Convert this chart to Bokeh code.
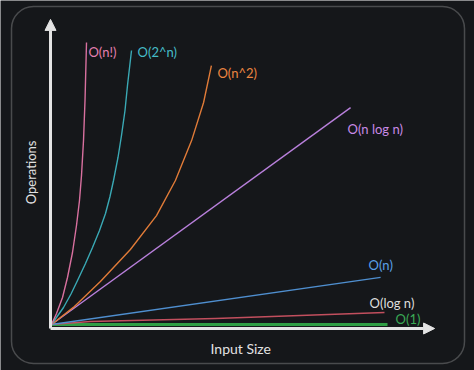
import math
from bokeh.plotting import figure
from bokeh.models import Arrow, NormalHead, BoxAnnotation, ColumnDataSource, Range1d
from bokeh.core.properties import value
from bokeh.embed import file_html
from bokeh.resources import INLINE

# ---------------- data (input size n, operations) ----------------
fact_n = [0, 0.167, 0.367, 0.533, 0.7, 0.833, 0.933, 1.0, 1.067, 1.117, 1.167]
fact_ops = [0, 3.67, 9, 15.67, 24, 33, 41.33, 49.67, 61.33, 74.67, 94]

exp_n = [0, 0.2, 0.4, 0.65, 0.867, 1.133, 1.367, 1.6, 1.8, 1.95, 2.067, 2.217, 2.333,
         2.45, 2.533, 2.667]
exp_ops = [0, 2.83, 5.67, 10.17, 14.67, 20.33, 25.67, 31.33, 37, 42.67, 48, 55.67, 63,
           71.33, 79.67, 91.33]

quad_n = [0, 0.73, 1.63, 2.63, 3.5, 4.13, 4.67, 5.07, 5.33]
quad_ops = [0, 5.7, 14.3, 25, 36.3, 48, 61.3, 74, 86.3]

nlogn_n = [0, 9.97]
nlogn_ops = [0, 72.3]

lin_n = [0, 10.97]
lin_ops = [0, 15.7]

log_n = [0, 1.3, 5.47, 11.1]
log_ops = [0, 1, 2, 4]

const_n = [0, 11.2]
const_ops = [0, 0]

labels = ["O(n!)", "O(2^n)", "O(n^2)", "O(n log n)", "O(n)", "O(log n)", "O(1)"]
label_n = [1.23, 2.87, 5.53, 9.87, 10.57, 10.6, 11.47]
label_ops = [90.7, 90.7, 83.7, 65.3, 20.0, 7.3, 2.0]

x_title = "Input Size"
y_title = "Operations"

# ---------------- styles ----------------
BG = "#15171a"
line_colors = ["#d8709f", "#3aa9b5", "#e07b38", "#b980dc", "#4f8fd0", "#c24f5e", "#2f9e44"]
label_colors = ["#e47fb0", "#45bcc8", "#ec8540", "#c88ae6", "#5aa0e8", "#dedede", "#3aaa55"]
line_widths = [1.4, 1.4, 1.4, 1.4, 1.4, 1.6, 3.2]
AXIS = "#e4e4e4"

p = figure(width=474, height=370, output_backend="svg", toolbar_location=None,
           x_axis_location=None, y_axis_location=None,
           x_range=Range1d(-1.7, 14.1), y_range=Range1d(-15.333, 108.0),
           min_border=0, background_fill_color=BG, border_fill_color=BG,
           outline_line_color=None)
p.grid.visible = False

# rounded frame
p.add_layout(BoxAnnotation(left=-1.333, right=13.767, top=106.0, bottom=-13.0,
                           border_radius=22, fill_color=None,
                           line_color="#c4c4c4", line_width=1.5))

series = [(fact_n, fact_ops), (exp_n, exp_ops), (quad_n, quad_ops), (nlogn_n, nlogn_ops),
          (lin_n, lin_ops), (log_n, log_ops), (const_n, const_ops)]
for i in [6, 5, 4, 3, 2, 1, 0]:
    xs, ys = series[i]
    p.line(xs, ys, line_color=line_colors[i], line_width=line_widths[i], line_join="round")

# axes as arrows
p.add_layout(Arrow(end=NormalHead(size=11, fill_color=AXIS, line_color=AXIS),
                   x_start=-0.033, y_start=-1.33, x_end=12.77, y_end=-1.33,
                   line_color=AXIS, line_width=3))
p.add_layout(Arrow(end=NormalHead(size=11, fill_color=AXIS, line_color=AXIS),
                   x_start=-0.033, y_start=-1.33, x_end=-0.033, y_end=101.7,
                   line_color=AXIS, line_width=3))

src = ColumnDataSource(dict(x=label_n, y=label_ops, text=labels, color=label_colors))
p.text(x="x", y="y", text="text", source=src, text_color="color",
       text_font=value("Lato"), text_font_size="13px",
       text_align="left", text_baseline="middle")

p.text(x=[5.3], y=[-8.0], text=[x_title], text_color="#e2e2e2",
       text_font=value("Lato"), text_font_size="14px",
       text_align="left", text_baseline="middle")
p.text(x=[-0.7], y=[50.7], text=[y_title], text_color="#e2e2e2", angle=math.pi / 2,
       text_font=value("Lato"), text_font_size="13px",
       text_align="center", text_baseline="middle")

html = file_html(p, INLINE)
html = html.replace("<body>", '<body style="background-color:%s;overflow:hidden;">' % BG, 1)
open("out.html", "w").write(html)
